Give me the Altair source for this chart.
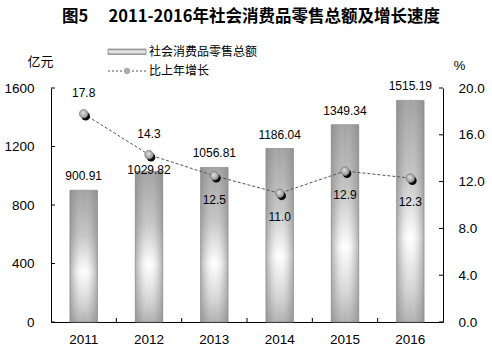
import altair as alt
import pandas as pd

years = ["2011", "2012", "2013", "2014", "2015", "2016"]
retail = [900.91, 1029.82, 1056.81, 1186.04, 1349.34, 1515.19]
growth = [17.8, 14.3, 12.5, 11.0, 12.9, 12.3]
left_ticks = [0, 400, 800, 1200, 1600]
right_ticks = [0, 4, 8, 12, 16, 20]
bar_name = "社会消费品零售总额"
line_name = "比上年增长"
title_text = "图5\u2003 2011-2016年社会消费品零售总额及增长速度"

W, H = 392, 234
NUM_FONT = "Liberation Sans"
CJK_FONT = "Noto Sans CJK SC"

df = pd.DataFrame({"year": years, "retail": retail, "growth": growth})
left_df = pd.DataFrame({"retail": left_ticks})
right_df = pd.DataFrame({"growth": right_ticks})
one = pd.DataFrame({"k": [0]})

x_enc = alt.X(
    "year:N",
    sort=years,
    scale=alt.Scale(paddingInner=0, paddingOuter=0),
    axis=alt.Axis(
        title=None, labelAngle=0, ticks=False, labelFont=NUM_FONT,
        labelFontSize=13.5, labelColor="black", labelPadding=10,
        domainColor="black", grid=False,
    ),
)

y_left = alt.Y(
    "retail:Q",
    scale=alt.Scale(domain=[0, 1600], nice=False, zero=True),
    axis=alt.Axis(
        values=left_ticks, format="d", ticks=False, grid=False, domainColor="black",
        labelFont=NUM_FONT, labelFontSize=13.5, labelColor="black", labelPadding=17,
        title="亿元", titleAngle=0, titleX=-11, titleY=-27, titleAlign="center",
        titleBaseline="middle", titleFont=CJK_FONT, titleFontSize=13,
        titleFontWeight="normal", titleColor="black",
    ),
)

y_right = alt.Y(
    "growth:Q",
    scale=alt.Scale(domain=[0, 20], nice=False, zero=True),
    axis=alt.Axis(
        orient="right", values=right_ticks, format=".1f", ticks=False, grid=False,
        domainColor="black", labelFont=NUM_FONT, labelFontSize=13.5,
        labelColor="black", labelPadding=15,
        title="%", titleAngle=0, titleX=16, titleY=-23, titleAlign="center",
        titleBaseline="middle", titleFont=NUM_FONT, titleFontSize=13,
        titleFontWeight="normal", titleColor="black",
    ),
)

vgrad = {
    "gradient": "linear", "x1": 0, "y1": 0, "x2": 0, "y2": 1,
    "stops": [
        {"offset": 0, "color": "#a2a2a2"},
        {"offset": 0.35, "color": "#c6c6c6"},
        {"offset": 0.62, "color": "#ffffff"},
        {"offset": 0.85, "color": "#d6d6d6"},
        {"offset": 1, "color": "#b0b0b0"},
    ],
}
hgrad = {
    "gradient": "linear", "x1": 0, "y1": 0, "x2": 1, "y2": 0,
    "stops": [
        {"offset": 0, "color": "rgba(130,130,130,0.6)"},
        {"offset": 0.25, "color": "rgba(150,150,150,0.18)"},
        {"offset": 0.5, "color": "rgba(255,255,255,0)"},
        {"offset": 0.75, "color": "rgba(150,150,150,0.18)"},
        {"offset": 1, "color": "rgba(130,130,130,0.6)"},
    ],
}
dot_grad = {
    "gradient": "radial", "x1": 0.4, "y1": 0.35, "r1": 0, "x2": 0.5, "y2": 0.5, "r2": 0.55,
    "stops": [
        {"offset": 0, "color": "#e6e6e6"},
        {"offset": 1, "color": "#8c8c8c"},
    ],
}

base = alt.Chart(df)
bw = alt.RelativeBandSize(0.42)

bars = base.mark_bar(fill=vgrad, stroke="#939393", strokeWidth=0.8, width=bw).encode(x=x_enc, y=y_left)
bars_shade = base.mark_bar(fill=hgrad, width=bw).encode(x=x_enc, y=y_left)

bar_lab_style = dict(font=NUM_FONT, fontSize=12, color="black", baseline="middle", align="center")
bar_labels = base.transform_filter(alt.datum.year != "2012").mark_text(dy=-14, **bar_lab_style).encode(
    x=x_enc, y=y_left, text=alt.Text("retail:Q", format=".2f"))
bar_labels_2012 = base.transform_filter(alt.datum.year == "2012").mark_text(dy=-1, **bar_lab_style).encode(
    x=x_enc, y=y_left, text=alt.Text("retail:Q", format=".2f"))

left_tick_rules = alt.Chart(left_df).mark_rule(color="black", strokeWidth=1).encode(
    y=y_left, x=alt.value(0), x2=alt.value(4))
bottom_ticks = base.transform_filter(alt.datum.year != "2011").mark_rule(
    color="black", strokeWidth=1, xOffset=-W / 12).encode(
    x=x_enc, y=alt.value(H - 4), y2=alt.value(H))

# manual legend
leg_rect = alt.Chart(one).mark_rect(fill={
    "gradient": "linear", "x1": 0, "y1": 0, "x2": 0, "y2": 1,
    "stops": [{"offset": 0, "color": "#9a9a9a"}, {"offset": 0.5, "color": "#f4f4f4"}, {"offset": 1, "color": "#9a9a9a"}],
}, stroke="#8a8a8a", strokeWidth=0.8).encode(
    x=alt.value(57), x2=alt.value(95), y=alt.value(-39), y2=alt.value(-33.5))
leg_line = alt.Chart(one).mark_rule(color="#555555", strokeDash=[2, 2], strokeWidth=1).encode(
    x=alt.value(57), x2=alt.value(95), y=alt.value(-17))
leg_dot = alt.Chart(one).mark_point(filled=True, fill="#b0b0b0", stroke="#8a8a8a", strokeWidth=0.6,
                                     size=30, opacity=1, shape="circle").encode(
    x=alt.value(76), y=alt.value(-17))
leg_t1 = alt.Chart(one).mark_text(font=CJK_FONT, fontSize=12, color="black", align="left", baseline="middle").encode(
    x=alt.value(98), y=alt.value(-36.5), text=alt.value(bar_name))
leg_t2 = alt.Chart(one).mark_text(font=CJK_FONT, fontSize=12, color="black", align="left", baseline="middle").encode(
    x=alt.value(98), y=alt.value(-17), text=alt.value(line_name))

left = alt.layer(bars, bars_shade, bar_labels, bar_labels_2012, left_tick_rules, bottom_ticks,
                 leg_rect, leg_line, leg_dot, leg_t1, leg_t2)

line = base.mark_line(color="#555555", strokeDash=[3, 2], strokeWidth=1).encode(x=x_enc, y=y_right)
shadow = base.mark_point(filled=True, fill="#0a0a0a", size=75, opacity=1, shape="circle",
                         xOffset=2, yOffset=2.5).encode(x=x_enc, y=y_right)
dots = base.mark_point(filled=True, fill=dot_grad, stroke="#7a7a7a", strokeWidth=0.6, size=75,
                       opacity=1, shape="circle").encode(x=x_enc, y=y_right)
g_style = dict(font=NUM_FONT, fontSize=12, color="black", baseline="middle", align="center")
g_above = base.transform_filter("datum.year == '2011' || datum.year == '2012'").mark_text(dy=-21, **g_style).encode(
    x=x_enc, y=y_right, text=alt.Text("growth:Q", format=".1f"))
g_below = base.transform_filter("datum.year != '2011' && datum.year != '2012'").mark_text(dy=24, **g_style).encode(
    x=x_enc, y=y_right, text=alt.Text("growth:Q", format=".1f"))
right_tick_rules = alt.Chart(right_df).mark_rule(color="black", strokeWidth=1).encode(
    y=y_right, x=alt.value(W - 4), x2=alt.value(W))

right = alt.layer(line, shadow, dots, g_above, g_below, right_tick_rules)

chart = alt.layer(left, right).resolve_scale(y="independent").properties(
    width=W, height=H,
    title=alt.TitleParams(text=title_text, font=CJK_FONT, fontSize=16.5, fontWeight="bold",
                          color="black", anchor="middle", offset=20, dx=4),
    autosize=alt.AutoSizeParams(type="none"),
    padding={"left": 51, "top": 88, "right": 49, "bottom": 35},
    background="white",
).configure_view(stroke=None)

chart.save("out.html", embed_options={"renderer": "svg", "actions": False})
